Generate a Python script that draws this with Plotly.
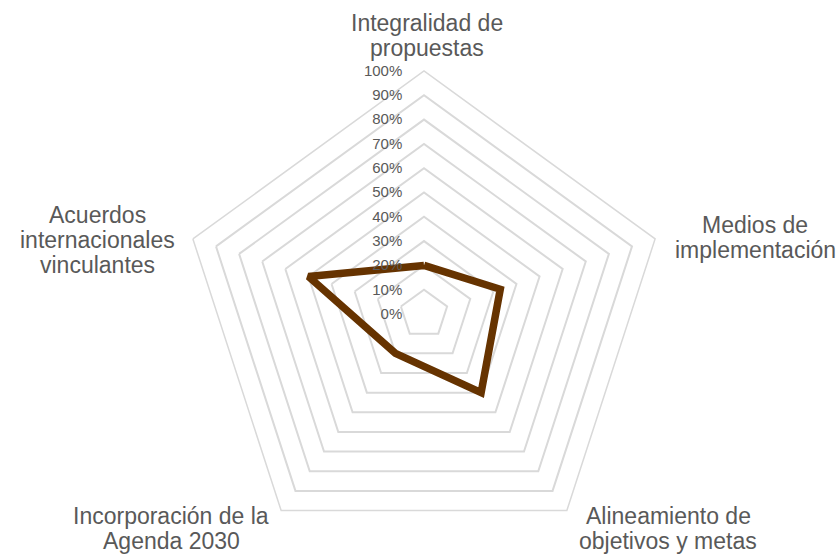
import plotly.graph_objects as go

categorias = [
    'Integralidad de propuestas',
    'Medios de implementación',
    'Alineamiento de objetivos y metas',
    'Incorporación de la Agenda 2030',
    'Acuerdos internacionales vinculantes',
]
# etiquetas partidas en renglones como en el original
etiquetas = [
    ['Integralidad de', 'propuestas'],
    ['Medios de', 'implementación'],
    ['Alineamiento de', 'objetivos y metas'],
    ['Incorporación de la', 'Agenda 2030'],
    ['Acuerdos', 'internacionales', 'vinculantes'],
]
valores = [0.20, 0.33, 0.40, 0.20, 0.50]

W, H = 839, 557
gris = '#595959'
grid = '#D9D9D9'

fig = go.Figure()
fig.add_trace(go.Scatterpolar(
    r=valores + valores[:1],
    theta=categorias + categorias[:1],
    mode='lines',
    line=dict(color='#663300', width=7.5),
    showlegend=False,
    hoverinfo='skip'
))

# centro (x px, y px del primer renglón) de cada etiqueta
pos_etiquetas = [(427, 23), (755, 225), (668, 516), (171, 516), (97, 215)]
interlineado = 25
for lineas, (px, py) in zip(etiquetas, pos_etiquetas):
    for i, txt in enumerate(lineas):
        fig.add_annotation(
            x=px / W, y=1 - (py + i * interlineado) / H,
            xref='paper', yref='paper', text=txt, showarrow=False,
            xanchor='center', yanchor='middle',
            font=dict(size=23, color=gris)
        )

fig.update_layout(
    width=W, height=H,
    margin=dict(l=0, r=0, t=0, b=0),
    paper_bgcolor='#FFFFFF',
    font=dict(family='Liberation Sans, Arial', color=gris),
    polar=dict(
        domain=dict(x=[181 / W, 667 / W], y=[0, 486 / H]),
        bgcolor='rgba(0,0,0,0)',
        gridshape='linear',
        radialaxis=dict(
            range=[0, 1], dtick=0.1, tick0=0, tickformat='.0%',
            angle=90, side='counterclockwise', tickangle=90,
            showline=False, ticks='outside', ticklen=16,
            tickcolor='rgba(0,0,0,0)', gridcolor=grid, gridwidth=1.5,
            tickfont=dict(size=15, color=gris)
        ),
        angularaxis=dict(
            rotation=90, direction='clockwise', showgrid=False,
            showline=True, linecolor=grid, linewidth=1.5, ticks='',
            showticklabels=False
        )
    )
)

fig.write_html("out.html", config={'displayModeBar': False},
               post_script="document.body.style.margin='0';")
